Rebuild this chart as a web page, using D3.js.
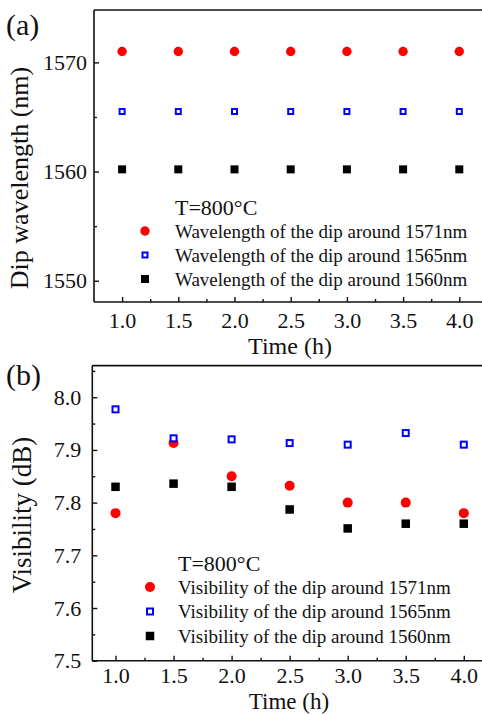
<!DOCTYPE html>
<html><head><meta charset="utf-8">
<script src="https://cdn.jsdelivr.net/npm/d3@7"></script>
<style>
html,body{margin:0;padding:0;background:#fff;}
svg{display:block;}
text{font-family:"Liberation Serif","Times New Roman",serif;fill:#111;}
</style></head>
<body>
<script>
// ---- data ----
const times = [1.0, 1.5, 2.0, 2.5, 3.0, 3.5, 4.0];
const xTicks = [1.0, 1.5, 2.0, 2.5, 3.0, 3.5, 4.0];

const wl1571 = [1571.0, 1571.0, 1571.0, 1571.0, 1571.0, 1571.0, 1571.0];
const wl1565 = [1565.5, 1565.5, 1565.5, 1565.5, 1565.5, 1565.5, 1565.5];
const wl1560 = [1560.2, 1560.2, 1560.2, 1560.2, 1560.2, 1560.2, 1560.2];
const wlTicks = [1550, 1560, 1570];

const vis1571 = [7.780, 7.913, 7.850, 7.832, 7.800, 7.800, 7.780];
const vis1565 = [7.977, 7.922, 7.920, 7.913, 7.910, 7.932, 7.910];
const vis1560 = [7.830, 7.836, 7.830, 7.787, 7.751, 7.760, 7.760];
const visTicks = [7.5, 7.6, 7.7, 7.8, 7.9, 8.0];

const legendA = ["Wavelength of the dip around 1571nm", "Wavelength of the dip around 1565nm", "Wavelength of the dip around 1560nm"];
const legendB = ["Visibility of the dip around 1571nm", "Visibility of the dip around 1565nm", "Visibility of the dip around 1560nm"];

const W = 482, H = 714;
const svg = d3.select("body").append("svg").attr("width", W).attr("height", H);

function marker(g, type, x, y, s) {
  if (type === "circle") {
    g.append("circle").attr("cx", x).attr("cy", y).attr("r", s.r).attr("fill", "#ff0000");
  } else if (type === "open") {
    const a = s.open, sw = 2;
    g.append("rect").attr("x", x - a/2 + sw/2).attr("y", y - a/2 + sw/2)
      .attr("width", a - sw).attr("height", a - sw)
      .attr("fill", "#fff").attr("stroke", "#0000ff").attr("stroke-width", sw);
  } else {
    const a = s.sq;
    g.append("rect").attr("x", x - a/2).attr("y", y - a/2).attr("width", a).attr("height", a).attr("fill", "#000");
  }
}

function panel(cfg) {
  const g = svg.append("g");
  const x = d3.scaleLinear().domain(cfg.xDom).range(cfg.xRange);
  const y = d3.scaleLinear().domain(cfg.yDom).range(cfg.yRange);
  const x0 = cfg.xRange[0], y0 = cfg.yRange[0], yTop = cfg.yRange[1];

  // x axis (ticks inward)
  const xAxis = d3.axisBottom(x).tickValues(xTicks).tickSize(-5).tickPadding(cfg.xPad).tickFormat(d3.format(".1f"));
  const gx = g.append("g").attr("transform", `translate(0,${y0})`).call(xAxis);
  const xMinor = d3.axisBottom(x).tickValues(d3.range(1.25, 4.01, 0.5)).tickSize(-3).tickFormat("");
  const gxm = g.append("g").attr("transform", `translate(0,${y0})`).call(xMinor);
  // y axis (ticks inward)
  const yAxis = d3.axisLeft(y).tickValues(cfg.yTicks).tickSize(-5).tickPadding(cfg.yPad).tickFormat(cfg.yFmt);
  const gy = g.append("g").attr("transform", `translate(${x0},0)`).call(yAxis);
  const yMinor = d3.axisLeft(y).tickValues(cfg.yMinor).tickSize(-3).tickFormat("");
  const gym = g.append("g").attr("transform", `translate(${x0},0)`).call(yMinor);

  [gx, gxm, gy, gym].forEach(a => {
    a.select(".domain").remove();
    a.selectAll("line").attr("stroke", "#111").attr("stroke-width", 1.4);
  });
  gx.selectAll("text").attr("font-size", 22).attr("fill", "#111").style("font-family", "Liberation Serif");
  gy.selectAll("text").attr("font-size", 22).attr("fill", "#111").style("font-family", "Liberation Serif");

  // frame lines
  g.append("line").attr("x1", x0).attr("x2", W + 10).attr("y1", y0).attr("y2", y0).attr("stroke", "#111").attr("stroke-width", 1.6);
  g.append("line").attr("x1", x0).attr("x2", x0).attr("y1", y0).attr("y2", yTop).attr("stroke", "#111").attr("stroke-width", 1.6);
  g.append("line").attr("x1", x0).attr("x2", W + 10).attr("y1", yTop).attr("y2", yTop).attr("stroke", "#111").attr("stroke-width", 1.6);

  // data
  const series = [[cfg.s1, "circle"], [cfg.s2, "open"], [cfg.s3, "sq"]];
  series.forEach(([vals, type]) => {
    vals.forEach((v, i) => marker(g, type, x(times[i]), y(v), cfg.ms));
  });

  // legend
  g.append("text").attr("x", cfg.leg.tx).attr("y", cfg.leg.titleY).attr("font-size", 22).text("T=800°C");
  cfg.legText.forEach((t, i) => {
    const ly = cfg.leg.y0 + i * cfg.leg.dy;
    marker(g, series[i][1], cfg.leg.mx, ly, cfg.ms);
    g.append("text").attr("x", cfg.leg.tx).attr("y", ly + 6.5).attr("font-size", 19).text(t);
  });

  // axis titles
  g.append("text").attr("x", cfg.xtX).attr("y", cfg.xtY).attr("text-anchor", "middle").attr("font-size", cfg.xtSize).text("Time (h)");
  g.append("text").attr("transform", `translate(${cfg.ytX},${cfg.ytY}) rotate(-90)`).attr("text-anchor", "middle")
    .attr("font-size", cfg.ytSize).text(cfg.yTitle);
  g.append("text").attr("x", 6).attr("y", cfg.labY).attr("font-size", 30).text(cfg.label);
}

panel({
  xDom: [0.75, 4.25], xRange: [94, 487.4], xPad: 10,
  yDom: [1548.05, 1574.8], yRange: [302, 10],
  yTicks: wlTicks, yMinor: [1555, 1565], yFmt: d3.format("d"), yPad: 7,
  s1: wl1571, s2: wl1565, s3: wl1560,
  ms: {r: 4.7, open: 7, sq: 8},
  legText: legendA,
  leg: {mx: 145, tx: 175, titleY: 215, y0: 231, dy: 24},
  xtX: 290, xtY: 354, xtSize: 24, ytX: 28, ytY: 178, ytSize: 26, yTitle: "Dip wavelength (nm)",
  label: "(a)", labY: 35
});

panel({
  xDom: [0.8, 4.2], xRange: [92.3, 487], xPad: 7,
  yDom: [7.5, 8.06], yRange: [660.7, 365.6],
  yTicks: visTicks, yMinor: [7.55, 7.65, 7.75, 7.85, 7.95, 8.05], yFmt: d3.format(".1f"), yPad: 11,
  s1: vis1571, s2: vis1565, s3: vis1560,
  ms: {r: 5, open: 8, sq: 8.5},
  legText: legendB,
  leg: {mx: 150, tx: 178, titleY: 571, y0: 587, dy: 24.5},
  xtX: 289, xtY: 709, xtSize: 23, ytX: 31, ytY: 515, ytSize: 27, yTitle: "Visibility (dB)",
  label: "(b)", labY: 385
});
</script>
</body></html>
